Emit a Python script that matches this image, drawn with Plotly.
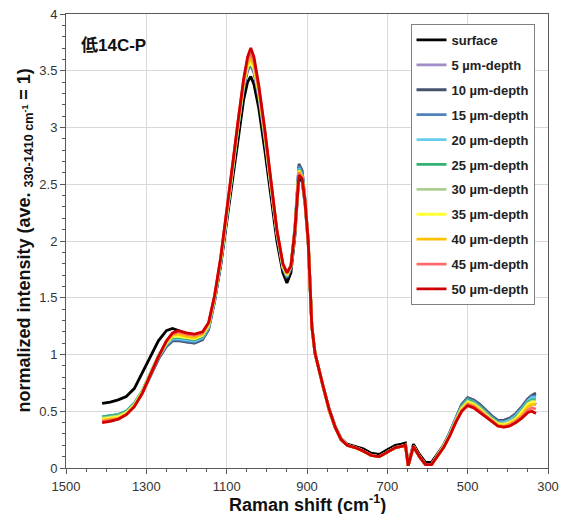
import plotly.graph_objects as go

# Raman shift grid (cm-1)
shift = [1410, 1390, 1370, 1350, 1330, 1310, 1290, 1270, 1250,
         1235, 1220, 1200, 1180, 1160, 1145, 1130, 1115, 1100,
         1085, 1070, 1058, 1048, 1040, 1032, 1020, 1005, 990, 975,
         960, 950, 940, 930, 920, 912, 905, 897, 888, 880,
         860, 845, 830, 815, 800, 780, 760, 740, 720, 700,
         680, 665, 655, 648, 642, 635, 620, 605, 590, 575,
         560, 545, 530, 515, 500, 485, 470, 455, 440, 425,
         410, 395, 380, 365, 350, 340, 330]

surface = [0.57, 0.58, 0.60, 0.63, 0.70, 0.84, 0.99, 1.12, 1.21,
           1.23, 1.21, 1.18, 1.17, 1.19, 1.26, 1.48, 1.78, 2.16,
           2.56, 2.95, 3.24, 3.40, 3.45, 3.38, 3.17, 2.80, 2.40, 2.00,
           1.72, 1.63, 1.72, 2.05, 2.58, 2.52, 2.33, 1.98, 1.25, 1.01,
           0.72, 0.52, 0.37, 0.26, 0.21, 0.19, 0.17, 0.13, 0.12, 0.16,
           0.20, 0.21, 0.22, 0.03, 0.12, 0.21, 0.12, 0.05, 0.05, 0.12,
           0.20, 0.30, 0.42, 0.53, 0.59, 0.57, 0.53, 0.49, 0.45, 0.41,
           0.40, 0.41, 0.45, 0.50, 0.56, 0.58, 0.56]

d5 = [0.44, 0.45, 0.46, 0.49, 0.55, 0.66, 0.81, 0.96, 1.07,
      1.12, 1.13, 1.11, 1.10, 1.13, 1.22, 1.47, 1.80, 2.20,
      2.63, 3.05, 3.34, 3.50, 3.55, 3.48, 3.27, 2.90, 2.47, 2.06,
      1.76, 1.68, 1.76, 2.10, 2.66, 2.60, 2.36, 2.00, 1.25, 1.01,
      0.72, 0.51, 0.36, 0.25, 0.20, 0.18, 0.15, 0.11, 0.10, 0.14,
      0.18, 0.19, 0.20, 0.02, 0.10, 0.19, 0.10, 0.03, 0.03, 0.11,
      0.20, 0.31, 0.44, 0.56, 0.62, 0.60, 0.56, 0.51, 0.46, 0.42,
      0.42, 0.44, 0.48, 0.54, 0.61, 0.64, 0.65]

d10 = [0.44, 0.45, 0.46, 0.49, 0.55, 0.66, 0.81, 0.96, 1.07,
       1.12, 1.12, 1.11, 1.10, 1.13, 1.22, 1.47, 1.80, 2.20,
       2.63, 3.05, 3.35, 3.51, 3.56, 3.49, 3.28, 2.91, 2.48, 2.07,
       1.77, 1.68, 1.77, 2.12, 2.68, 2.62, 2.37, 2.00, 1.25, 1.01,
       0.72, 0.51, 0.36, 0.25, 0.20, 0.18, 0.15, 0.11, 0.10, 0.14,
       0.18, 0.19, 0.20, 0.02, 0.10, 0.19, 0.10, 0.03, 0.03, 0.11,
       0.20, 0.31, 0.44, 0.56, 0.62, 0.60, 0.56, 0.51, 0.46, 0.42,
       0.42, 0.44, 0.48, 0.54, 0.61, 0.64, 0.66]

d15 = [0.45, 0.46, 0.47, 0.50, 0.56, 0.67, 0.82, 0.97, 1.08,
       1.13, 1.13, 1.12, 1.11, 1.14, 1.23, 1.48, 1.81, 2.21,
       2.64, 3.06, 3.36, 3.52, 3.56, 3.50, 3.29, 2.92, 2.49, 2.08,
       1.77, 1.69, 1.77, 2.11, 2.66, 2.60, 2.36, 2.00, 1.25, 1.01,
       0.72, 0.51, 0.36, 0.25, 0.20, 0.18, 0.15, 0.11, 0.10, 0.14,
       0.18, 0.19, 0.20, 0.02, 0.10, 0.19, 0.10, 0.03, 0.03, 0.11,
       0.19, 0.30, 0.43, 0.55, 0.61, 0.59, 0.55, 0.50, 0.45, 0.41,
       0.41, 0.43, 0.47, 0.53, 0.60, 0.63, 0.63]

d20 = [0.45, 0.46, 0.47, 0.50, 0.57, 0.68, 0.83, 0.98, 1.09,
       1.14, 1.14, 1.13, 1.12, 1.15, 1.24, 1.49, 1.82, 2.22,
       2.65, 3.07, 3.37, 3.53, 3.57, 3.51, 3.30, 2.93, 2.49, 2.08,
       1.77, 1.69, 1.77, 2.10, 2.64, 2.58, 2.35, 2.00, 1.25, 1.01,
       0.72, 0.51, 0.36, 0.25, 0.20, 0.18, 0.15, 0.11, 0.10, 0.14,
       0.18, 0.19, 0.20, 0.02, 0.10, 0.19, 0.10, 0.03, 0.03, 0.11,
       0.19, 0.30, 0.43, 0.54, 0.60, 0.58, 0.54, 0.49, 0.44, 0.40,
       0.40, 0.42, 0.46, 0.52, 0.59, 0.62, 0.62]

d25 = [0.45, 0.46, 0.47, 0.50, 0.57, 0.68, 0.84, 0.99, 1.10,
       1.15, 1.15, 1.14, 1.13, 1.16, 1.25, 1.50, 1.82, 2.22,
       2.65, 3.07, 3.38, 3.54, 3.58, 3.52, 3.31, 2.94, 2.50, 2.08,
       1.78, 1.70, 1.78, 2.10, 2.63, 2.57, 2.35, 2.00, 1.25, 1.01,
       0.72, 0.51, 0.36, 0.25, 0.20, 0.18, 0.15, 0.11, 0.10, 0.14,
       0.18, 0.19, 0.20, 0.02, 0.10, 0.19, 0.10, 0.03, 0.03, 0.11,
       0.19, 0.29, 0.42, 0.54, 0.60, 0.58, 0.54, 0.49, 0.44, 0.40,
       0.39, 0.41, 0.45, 0.51, 0.58, 0.60, 0.60]

d30 = [0.44, 0.45, 0.46, 0.49, 0.56, 0.68, 0.84, 0.99, 1.10,
       1.16, 1.16, 1.15, 1.14, 1.17, 1.25, 1.50, 1.82, 2.22,
       2.65, 3.07, 3.38, 3.54, 3.58, 3.52, 3.31, 2.94, 2.50, 2.08,
       1.78, 1.70, 1.78, 2.10, 2.62, 2.56, 2.35, 2.00, 1.25, 1.01,
       0.72, 0.51, 0.36, 0.25, 0.20, 0.18, 0.15, 0.11, 0.10, 0.14,
       0.18, 0.19, 0.20, 0.02, 0.10, 0.19, 0.10, 0.03, 0.03, 0.11,
       0.19, 0.29, 0.42, 0.53, 0.59, 0.57, 0.53, 0.48, 0.43, 0.39,
       0.39, 0.41, 0.44, 0.50, 0.57, 0.59, 0.59]

d35 = [0.43, 0.44, 0.45, 0.48, 0.55, 0.67, 0.83, 0.98, 1.10,
       1.16, 1.16, 1.15, 1.14, 1.17, 1.26, 1.51, 1.83, 2.23,
       2.66, 3.08, 3.38, 3.54, 3.57, 3.52, 3.31, 2.94, 2.50, 2.09,
       1.78, 1.70, 1.78, 2.10, 2.62, 2.56, 2.35, 2.00, 1.25, 1.01,
       0.72, 0.51, 0.36, 0.25, 0.20, 0.18, 0.15, 0.11, 0.10, 0.14,
       0.18, 0.19, 0.20, 0.02, 0.10, 0.19, 0.10, 0.03, 0.03, 0.11,
       0.19, 0.29, 0.41, 0.52, 0.58, 0.56, 0.52, 0.47, 0.43, 0.39,
       0.38, 0.40, 0.43, 0.49, 0.56, 0.58, 0.58]

d40 = [0.42, 0.43, 0.44, 0.47, 0.54, 0.66, 0.82, 0.98, 1.11,
       1.17, 1.18, 1.16, 1.15, 1.18, 1.27, 1.51, 1.84, 2.24,
       2.67, 3.10, 3.40, 3.57, 3.60, 3.55, 3.33, 2.95, 2.51, 2.09,
       1.79, 1.71, 1.78, 2.10, 2.61, 2.56, 2.35, 2.00, 1.25, 1.01,
       0.72, 0.51, 0.36, 0.25, 0.20, 0.18, 0.15, 0.11, 0.10, 0.14,
       0.18, 0.19, 0.20, 0.02, 0.10, 0.19, 0.10, 0.03, 0.03, 0.11,
       0.18, 0.28, 0.41, 0.51, 0.57, 0.55, 0.51, 0.46, 0.42, 0.38,
       0.37, 0.39, 0.42, 0.47, 0.54, 0.56, 0.56]

d45 = [0.41, 0.42, 0.43, 0.47, 0.54, 0.66, 0.82, 0.98, 1.12,
       1.18, 1.20, 1.18, 1.17, 1.19, 1.28, 1.52, 1.85, 2.25,
       2.68, 3.10, 3.41, 3.60, 3.65, 3.58, 3.35, 2.97, 2.52, 2.09,
       1.80, 1.72, 1.78, 2.10, 2.60, 2.55, 2.35, 2.00, 1.25, 1.01,
       0.72, 0.52, 0.36, 0.25, 0.20, 0.18, 0.15, 0.11, 0.10, 0.14,
       0.18, 0.19, 0.20, 0.02, 0.10, 0.19, 0.10, 0.03, 0.03, 0.10,
       0.18, 0.28, 0.40, 0.50, 0.56, 0.54, 0.50, 0.46, 0.42, 0.37,
       0.36, 0.38, 0.41, 0.45, 0.51, 0.53, 0.52]

d50 = [0.40, 0.41, 0.43, 0.47, 0.54, 0.66, 0.82, 0.98, 1.12,
       1.19, 1.21, 1.19, 1.18, 1.20, 1.28, 1.52, 1.85, 2.25,
       2.68, 3.10, 3.42, 3.62, 3.70, 3.62, 3.37, 2.98, 2.52, 2.10,
       1.80, 1.72, 1.78, 2.10, 2.58, 2.55, 2.35, 2.00, 1.25, 1.01,
       0.72, 0.52, 0.36, 0.25, 0.20, 0.18, 0.15, 0.11, 0.10, 0.14,
       0.18, 0.19, 0.20, 0.02, 0.10, 0.19, 0.10, 0.03, 0.03, 0.10,
       0.18, 0.28, 0.40, 0.50, 0.55, 0.53, 0.49, 0.45, 0.41, 0.37,
       0.36, 0.37, 0.40, 0.44, 0.49, 0.50, 0.48]

names = ["surface", "5 µm-depth", "10 µm-depth", "15 µm-depth", "20 µm-depth",
         "25 µm-depth", "30 µm-depth", "35 µm-depth", "40 µm-depth",
         "45 µm-depth", "50 µm-depth"]
series = [surface, d5, d10, d15, d20, d25, d30, d35, d40, d45, d50]
colors = ["#000000", "#a08cc8", "#44546a", "#4f81bd", "#66ccee", "#33b073",
          "#a9d18e", "#ffff33", "#ffc000", "#ff6b6b", "#d00000"]

FONT = "Liberation Sans, Arial, Noto Sans CJK JP, sans-serif"

fig = go.Figure()
for i, (nm, ys, c) in enumerate(zip(names, series, colors)):
    fig.add_trace(go.Scatter(
        x=shift, y=ys, mode="lines", name=nm,
        line=dict(color=c, width=2.8),
        legendgroup=str(i)))

fig.update_layout(
    width=567, height=514,
    margin=dict(l=66, r=19, t=14, b=46),
    paper_bgcolor="white", plot_bgcolor="white",
    font=dict(family=FONT, color="#333333"),
    showlegend=True,
    legend=dict(
        x=0.972, y=0.978, xanchor="right", yanchor="top",
        bgcolor="white", bordercolor="#808080", borderwidth=1,
        font=dict(size=13, color="#222222", family=FONT, weight="bold"),
        traceorder="grouped", tracegroupgap=5, itemwidth=30,
    ),
    xaxis=dict(
        range=[1500, 300], dtick=200, tick0=300, automargin=False,
        showgrid=True, gridcolor="#d9d9d9", gridwidth=1,
        showline=True, linecolor="#595959", linewidth=1, mirror=True,
        ticks="outside", ticklen=5, tickcolor="#595959", ticklabelstandoff=1,
        tickfont=dict(size=13, color="#333333"),
        minor=dict(dtick=50, ticks="outside", ticklen=3, tickcolor="#595959", showgrid=False),
        zeroline=False,
    ),
    yaxis=dict(
        range=[0, 4], dtick=0.5, automargin=False,
        showgrid=True, gridcolor="#d9d9d9", gridwidth=1,
        showline=True, linecolor="#595959", linewidth=1, mirror=True,
        ticks="outside", ticklen=5, tickcolor="#595959",
        tickfont=dict(size=13, color="#333333"),
        minor=dict(dtick=0.1, ticks="outside", ticklen=3, tickcolor="#595959", showgrid=False),
        zeroline=False,
    ),
    annotations=[
        dict(text="<b>低14C-P</b>", xref="paper", yref="paper", x=0.028, y=0.93,
             xanchor="left", yanchor="middle", showarrow=False,
             font=dict(size=17, color="#111111", family="Liberation Sans, Noto Sans CJK JP, sans-serif")),
        dict(text="<b>Raman shift (cm<sup>-1</sup>)</b>", xref="paper", yref="paper",
             x=0.5, y=-0.079, xanchor="center", yanchor="middle", showarrow=False,
             font=dict(size=18, color="#111111")),
        dict(text="<b>normalized intensity (ave. <sub>330-1410 cm<sup>-1</sup></sub> = 1)</b>",
             xref="paper", yref="paper", x=-0.086, y=0.5, xanchor="center", yanchor="middle",
             textangle=-90, showarrow=False, font=dict(size=18, color="#111111")),
    ],
)

fig.write_html("out.html")
